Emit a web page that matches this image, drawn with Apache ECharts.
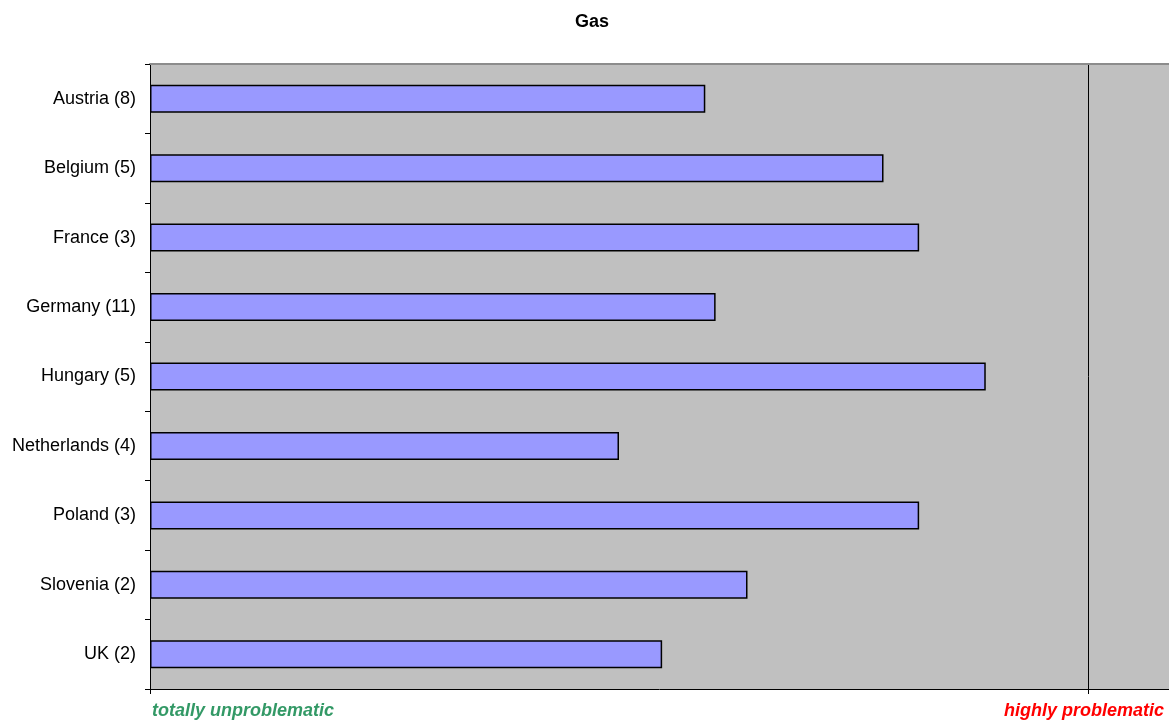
<!DOCTYPE html>
<html>
<head>
<meta charset="utf-8">
<script src="https://cdn.jsdelivr.net/npm/echarts@6/dist/echarts.min.js"></script>
<style>
  html, body { margin: 0; padding: 0; background: #fff; }
  #chart { width: 1169px; height: 722px; }
</style>
</head>
<body>
<div id="chart"></div>
<script>
// Countries (number of responses) and their mean rating, 0 = totally unproblematic, 1 = highly problematic
const categories = [
  'Austria (8)', 'Belgium (5)', 'France (3)', 'Germany (11)', 'Hungary (5)',
  'Netherlands (4)', 'Poland (3)', 'Slovenia (2)', 'UK (2)'
];
const scores = [0.592, 0.782, 0.820, 0.603, 0.891, 0.500, 0.820, 0.637, 0.546];
const scaleLabels = ['totally unproblematic', 'highly problematic'];

const FONT = '"Liberation Sans", Arial, Helvetica, sans-serif';

// the plot runs to the right edge of the canvas, a bit beyond the "1" mark
const gridLeft = 150, unitPx = 938;
const axisMax = (1169 - gridLeft) / unitPx;

const chart = echarts.init(document.getElementById('chart'), null, { renderer: 'canvas' });
chart.setOption({
  animation: false,
  backgroundColor: '#ffffff',
  title: {
    text: 'Gas',
    left: 570,
    top: 8,
    textStyle: { fontFamily: FONT, fontSize: 18, fontWeight: 'bold', color: '#000' }
  },
  grid: {
    left: gridLeft, right: 0, top: 64, bottom: 33,
    show: true,
    backgroundColor: '#c0c0c0',
    borderWidth: 0
  },
  xAxis: [{
    type: 'value',
    min: 0,
    max: axisMax,
    interval: 1,
    axisLine: { show: true, lineStyle: { color: '#000', width: 1 } },
    axisTick: { show: true, length: 5, lineStyle: { color: '#000' } },
    axisLabel: { show: false },
    splitLine: { show: true, lineStyle: { color: '#000', width: 1 } }
  }, {
    // grey frame line along the top of the plot
    type: 'value',
    position: 'top',
    min: 0,
    max: axisMax,
    axisLine: { show: true, lineStyle: { color: '#8c8c8c', width: 2 } },
    axisTick: { show: false },
    axisLabel: { show: false },
    splitLine: { show: false }
  }],
  yAxis: {
    type: 'category',
    data: categories,
    inverse: true,
    axisLine: { show: true, lineStyle: { color: '#000', width: 1 } },
    axisTick: { show: true, length: 5, lineStyle: { color: '#000' } },
    axisLabel: { margin: 14, fontFamily: FONT, fontSize: 18, color: '#000' },
    splitLine: { show: false }
  },
  series: [{
    type: 'bar',
    xAxisIndex: 0,
    data: scores,
    barWidth: 28,
    itemStyle: { color: '#9999ff', borderColor: '#000', borderWidth: 1.5 }
  }],
  graphic: [
    {
      type: 'text', left: 152, top: 702,
      style: { text: scaleLabels[0], fill: '#339966', font: 'italic bold 18px ' + FONT }
    },
    {
      type: 'text', right: 5, top: 702,
      style: { text: scaleLabels[1], fill: '#ff0000', font: 'italic bold 18px ' + FONT }
    }
  ]
});
</script>
</body>
</html>
